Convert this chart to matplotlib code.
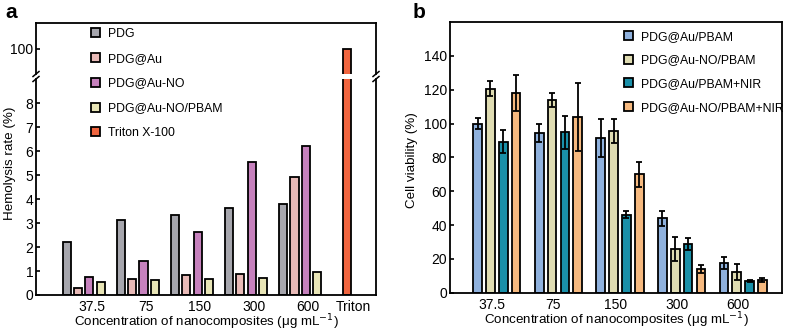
import numpy as np
import matplotlib
matplotlib.use("Agg")
import matplotlib.pyplot as plt

plt.rcParams['font.family'] = ['Liberation Sans', 'DejaVu Sans']
plt.rcParams['font.size'] = 10

# ---- panel a : hemolysis ----
conc_a = ['37.5', '75', '150', '300', '600']
series_a = ['PDG', 'PDG@Au', 'PDG@Au-NO', 'PDG@Au-NO/PBAM']
hemo = {
    'PDG':            [2.2, 3.15, 3.34, 3.62, 3.80],
    'PDG@Au':         [0.30, 0.65, 0.83, 0.88, 4.93],
    'PDG@Au-NO':      [0.76, 1.44, 2.63, 5.55, 6.23],
    'PDG@Au-NO/PBAM': [0.53, 0.62, 0.65, 0.69, 0.97],
}
triton_label = 'Triton X-100'
triton_value = 100
colors_a = ['#a6a6ad', '#e8bab7', '#c681bd', '#e8e5b6']
triton_color = '#f0653f'

# ---- panel b : cell viability ----
conc_b = ['37.5', '75', '150', '300', '600']
series_b = ['PDG@Au/PBAM', 'PDG@Au-NO/PBAM', 'PDG@Au/PBAM+NIR', 'PDG@Au-NO/PBAM+NIR']
viab = {
    'PDG@Au/PBAM':        [100, 94.3, 91.4, 44.0, 17.4],
    'PDG@Au-NO/PBAM':     [120.5, 114, 95.7, 25.7, 12.4],
    'PDG@Au/PBAM+NIR':    [89.3, 94.7, 46.0, 28.8, 6.9],
    'PDG@Au-NO/PBAM+NIR': [118, 103.8, 70.0, 14.0, 7.5],
}
viab_err = {
    'PDG@Au/PBAM':        [3.5, 5.3, 11, 4.5, 3.5],
    'PDG@Au-NO/PBAM':     [4.5, 4.0, 7, 7.0, 4.6],
    'PDG@Au/PBAM+NIR':    [7.0, 10, 2, 3.4, 0.5],
    'PDG@Au-NO/PBAM+NIR': [10.4, 20, 7.3, 2.5, 1.0],
}
colors_b = ['#8fb1dd', '#dfdcb2', '#1a90a9', '#f6b97f']

xlabel = 'Concentration of nanocomposites (μg mL$^{-1}$)'

fig = plt.figure(figsize=(7.9, 3.32), dpi=100)
W, H = 790, 332

def box(l, t, r, b):
    return [l / W, 1 - b / H, (r - l) / W, (b - t) / H]

ax_top = fig.add_axes(box(36, 23, 376, 74))
ax_bot = fig.add_axes(box(36, 79, 376, 295))

x = np.arange(len(conc_a))
step = 0.21
bw = 0.15
for ax in (ax_top, ax_bot):
    for k, name in enumerate(series_a):
        ax.bar(x + (k - 1.5) * step, hemo[name], bw, color=colors_a[k],
               edgecolor='black', linewidth=1.3, label=name)
    ax.bar([4.87], [triton_value], bw, color=triton_color,
           edgecolor='black', linewidth=1.3, label=triton_label)
    ax.set_xlim(-0.88, 5.40)
    ax.tick_params(axis='y', direction='in', length=3, width=1.2, pad=2)
    ax.tick_params(axis='x', length=0)
    for s in ax.spines.values():
        s.set_linewidth(1.3)

ax_top.set_ylim(98.96, 101.08)
ax_top.set_yticks([100])
ax_top.spines['bottom'].set_visible(False)
ax_top.set_xticks([])

ax_bot.set_ylim(0, 9.02)
ax_bot.set_yticks(range(0, 9))
ax_bot.spines['top'].set_visible(False)
ax_bot.set_xticks(list(x + 0.15) + [4.98])
ax_bot.set_xticklabels(conc_a + ['Triton'])
ax_bot.set_xlabel(xlabel, labelpad=-1, fontsize=9.6)
fig.text(10 / W, 1 - 163 / H, 'Hemolysis rate (%)', rotation=90,
         ha='center', va='center', fontsize=9.6)

# break marks
for xf in (0, 1):
    for yb in (74, 79):
        yf = 1 - yb / H
        xc = (36 + xf * 340) / W
        fig.add_artist(plt.Line2D([xc - 3 / W, xc + 3 / W], [yf - 2.5 / H, yf + 2.5 / H],
                                  color='black', lw=1.1))

h, l = ax_bot.get_legend_handles_labels()
fig.legend(h, l, loc='upper left', bbox_to_anchor=(86 / W, 1 - 23 / H),
           frameon=False, handlelength=0.75, handleheight=0.75,
           handletextpad=0.65, labelspacing=1.05, fontsize=8.8,
           borderaxespad=0.0)

fig.text(5 / W, 1 - 12 / H, 'a', fontsize=15, fontweight='bold', va='center', ha='left')

# ---- panel b ----
axb = fig.add_axes(box(450, 22, 782, 292.7))
xb = np.arange(len(conc_b))
stepb = 0.208
bwb = 0.14
for k, name in enumerate(series_b):
    axb.bar(xb + 0.08 + (k - 1.5) * stepb, viab[name], bwb, color=colors_b[k],
            edgecolor='black', linewidth=1.3, label=name,
            yerr=viab_err[name], capsize=2.5,
            error_kw=dict(elinewidth=1.3, capthick=1.3, ecolor='black'))
axb.set_xlim(-0.68, 4.71)
axb.set_ylim(0, 160)
axb.set_yticks(range(0, 141, 20))
axb.set_xticks(xb)
axb.set_xticklabels(conc_b)
axb.tick_params(axis='y', direction='in', length=3, width=1.2, pad=2)
axb.tick_params(axis='x', length=0)
for s in axb.spines.values():
    s.set_linewidth(1.3)
axb.set_xlabel(xlabel, labelpad=-1, fontsize=9.6)
fig.text(412 / W, 1 - 160 / H, 'Cell viability (%)', rotation=90,
         ha='center', va='center', fontsize=9.6)
fig.legend(*axb.get_legend_handles_labels(), loc='upper left',
           bbox_to_anchor=(619 / W, 1 - 26 / H), frameon=False,
           handlelength=0.75, handleheight=0.75, handletextpad=0.65,
           labelspacing=0.95, fontsize=8.8, borderaxespad=0.0)

fig.text(413 / W, 1 - 12 / H, 'b', fontsize=15, fontweight='bold', va='center', ha='left')

fig.savefig('out.png', dpi=100)
